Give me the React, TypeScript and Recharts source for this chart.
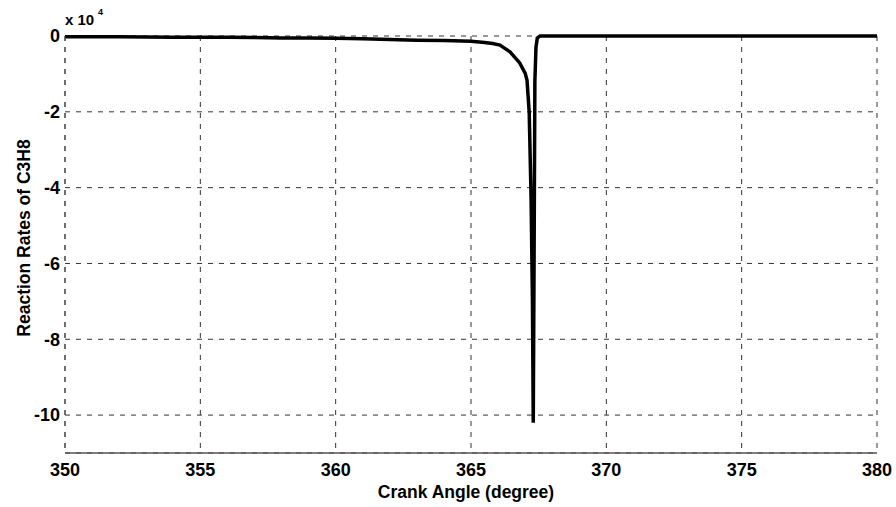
import React from 'react';
import { LineChart, Line, XAxis, YAxis, CartesianGrid, Label } from 'recharts';

// crank angle (deg) and C3H8 reaction rate (x 10^4)
const crankAngle = [
  350, 352, 354, 356, 357, 358, 359, 360, 361, 362, 363, 364, 365, 365.5, 365.8,
  366.07, 366.44, 366.8, 367.0, 367.07, 367.15, 367.22, 367.27, 367.3,
  367.33, 367.36, 367.4, 367.45, 367.55, 368, 369, 370, 372, 375, 378, 380,
];
const reactionRate = [
  -0.02, -0.02, -0.03, -0.03, -0.04, -0.05, -0.05, -0.06, -0.07, -0.09, -0.11, -0.12, -0.14, -0.17, -0.2,
  -0.24, -0.42, -0.71, -0.98, -1.17, -2.0, -4.3, -7.0, -10.2,
  -6.0, -1.2, -0.3, -0.05, 0, 0, 0, 0, 0, 0, 0, 0,
];
const xTicks = [350, 355, 360, 365, 370, 375, 380];
const yTicks = [0, -2, -4, -6, -8, -10];

const data = crankAngle.map((angle, i) => ({ angle, rate: reactionRate[i] }));

const FONT = '"Liberation Sans", Arial, sans-serif';
const tickStyle = { fontSize: 18, fontWeight: 700, fill: '#000', fontFamily: FONT };
const titleStyle = { fontSize: 17.5, fontWeight: 700, fontFamily: FONT };

const XTitle = ({ viewBox }: any) => (
  <text x={viewBox.x + viewBox.width / 2 - 5} y={viewBox.y + 45} textAnchor="middle"
    style={titleStyle} fill="#000">
    Crank Angle (degree)
  </text>
);

const YTitle = () => (
  <g>
    <text x={30} y={238} textAnchor="middle" transform="rotate(-90 30 238)"
      style={titleStyle} fill="#000">
      Reaction Rates of C3H8
    </text>
    <text x={65} y={25} style={{ fontSize: 15, fontWeight: 700, fontFamily: FONT }} fill="#000">
      x 10
    </text>
    <text x={98} y={15} style={{ fontSize: 9, fontWeight: 700, fontFamily: FONT }} fill="#000">
      4
    </text>
  </g>
);

export default function App() {
  return (
    <div style={{ position: 'absolute', left: 0, top: 0, background: '#fff' }}>
      <LineChart width={896} height={507} data={data} margin={{ top: 36, right: 19, left: 0, bottom: 0 }}>
        <CartesianGrid stroke="#333" strokeDasharray="5 6" />
        <XAxis
          type="number"
          dataKey="angle"
          domain={[350, 380]}
          ticks={xTicks}
          height={54}
          tickLine={false}
          tickSize={8}
          tickMargin={2}
          axisLine={{ stroke: '#555', strokeWidth: 1.5 }}
          tick={tickStyle}
        >
          <Label content={<XTitle />} />
        </XAxis>
        <YAxis
          type="number"
          domain={[-11, 0]}
          ticks={yTicks}
          width={65}
          tickLine={false}
          tickSize={3}
          tickMargin={2}
          axisLine={{ stroke: '#444', strokeDasharray: '5 6' }}
          tick={tickStyle}
        >
          <Label content={<YTitle />} />
        </YAxis>
        <Line
          type="linear"
          dataKey="rate"
          stroke="#000"
          strokeWidth={3.5}
          dot={false}
          isAnimationActive={false}
        />
      </LineChart>
    </div>
  );
}
